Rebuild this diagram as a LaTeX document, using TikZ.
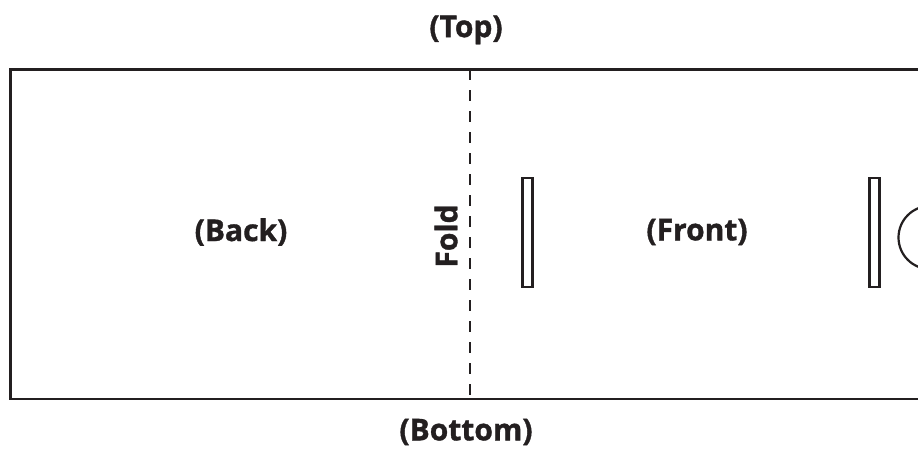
\documentclass[tikz,border=0pt]{standalone}
\usepackage{fontspec}
\setmainfont{Open Sans}[BoldFeatures={FakeBold=1.2}]
\definecolor{ink}{HTML}{231F20}
\begin{document}
\begin{tikzpicture}[x=1pt,y=-1pt,
  lbl/.style={font=\fontsize{30}{33}\selectfont\bfseries, text=ink, inner sep=0pt},
  slot/.style={draw=ink, line width=2.2pt, minimum width=10pt, minimum height=109pt, inner sep=0pt},
  panel/.style={draw=ink, line width=2.8pt},
  foldline/.style={draw=ink, line width=2.6pt, dash pattern=on 10.5pt off 10.5pt}]
\clip (0,0) rectangle (918,449);
\fill[white] (0,0) rectangle (918,449);
\draw[panel] (10.5,69.2) rectangle (960,399);
\coordinate (ftop) at (470,69.2);
\coordinate (fbot) at (470,399);
\draw[foldline] (ftop) -- (fbot);
\node[slot] (s1) at (527.5,232.5) {};
\node[slot] (s2) at (874.5,232.5) {};
\node[draw=ink, line width=2.2pt, circle, minimum size=63pt, inner sep=0pt] (hole) at (930,237.5) {};
\node[lbl] (top) at (466,30) {(Top)};
\node[lbl] (bottom) at (466,432) {(Bottom)};
\node[lbl] (back) at (241,232) {(Back)};
\node[lbl] (front) at (697,232) {(Front)};
\node[lbl, rotate=90] (fold) at (446,236) {Fold};
\end{tikzpicture}
\end{document}
